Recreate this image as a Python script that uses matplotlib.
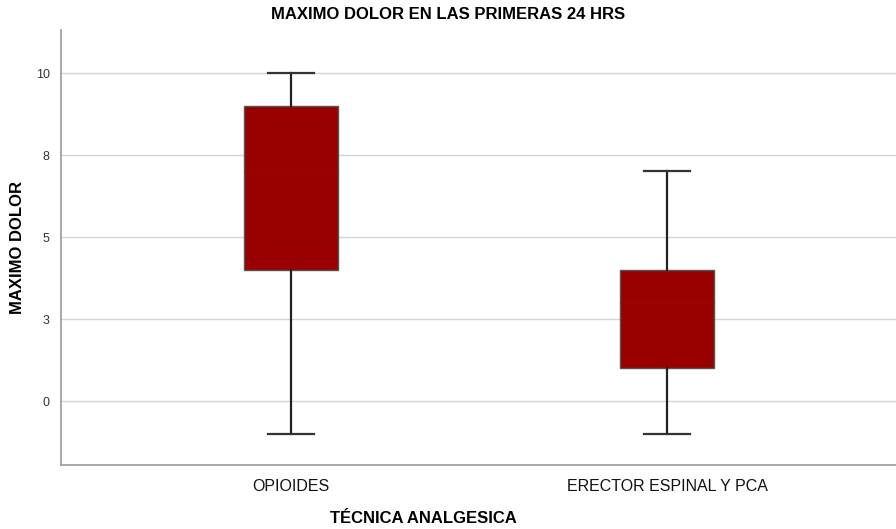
import matplotlib.pyplot as plt

# Box plot summary: maximum pain in first 24 h by analgesic technique
groups = ["OPIOIDES", "ERECTOR ESPINAL Y PCA"]
whisker_low = [-1.0, -1.0]
q1 = [4.0, 1.0]
median = [7.0, 3.0]
q3 = [9.0, 4.0]
whisker_high = [10.0, 7.0]

y_ticks = [0, 2.5, 5, 7.5, 10]
y_tick_labels = ["0", "3", "5", "8", "10"]

BOX_COLOR = "#990000"

plt.rcParams["font.family"] = ["Liberation Sans", "DejaVu Sans"]

fig = plt.figure(figsize=(8.96, 5.29), dpi=100)
ax = fig.add_axes([0.068, 0.121, 0.94, 0.822])

stats = []
for i, name in enumerate(groups):
    stats.append({
        "label": name,
        "whislo": whisker_low[i],
        "q1": q1[i],
        "med": median[i],
        "q3": q3[i],
        "whishi": whisker_high[i],
        "fliers": [],
    })

ax.bxp(
    stats,
    positions=range(len(groups)),
    widths=0.25,
    patch_artist=True,
    showfliers=False,
    boxprops=dict(facecolor=BOX_COLOR, edgecolor="#555555", linewidth=1.0),
    medianprops=dict(color="#9c0404", linewidth=1.0),
    whiskerprops=dict(color="#222222", linewidth=1.6),
    capprops=dict(color="#333333", linewidth=1.6),
    capwidths=0.122,
    zorder=3,
)

ax.set_xlim(-0.612, 1.627)
ax.set_ylim(-1.95, 11.31)
ax.set_yticks(y_ticks)
ax.set_yticklabels(y_tick_labels)
ax.yaxis.grid(True, color="#d4d4d4", linewidth=1.0, zorder=0)
ax.set_axisbelow(True)

ax.tick_params(axis="y", length=0, pad=8, labelsize=9, labelcolor="#333333")
ax.tick_params(axis="x", length=0, pad=10, labelsize=11.5, labelcolor="#111111")

for side in ["top", "right"]:
    ax.spines[side].set_visible(False)
for side in ["left", "bottom"]:
    ax.spines[side].set_color("#999999")
    ax.spines[side].set_linewidth(1.2)

ax.set_title("MAXIMO DOLOR EN LAS PRIMERAS 24 HRS", fontsize=12, fontweight="bold",
             pad=8, x=0.46)
ax.set_xlabel("TÉCNICA ANALGESICA", fontsize=12, fontweight="bold")
ax.xaxis.set_label_coords(0.43, -0.105)
ax.set_ylabel("MAXIMO DOLOR", fontsize=12, fontweight="bold")
ax.yaxis.set_label_coords(-0.043, 0.5)

fig.savefig("out.png", dpi=100)
